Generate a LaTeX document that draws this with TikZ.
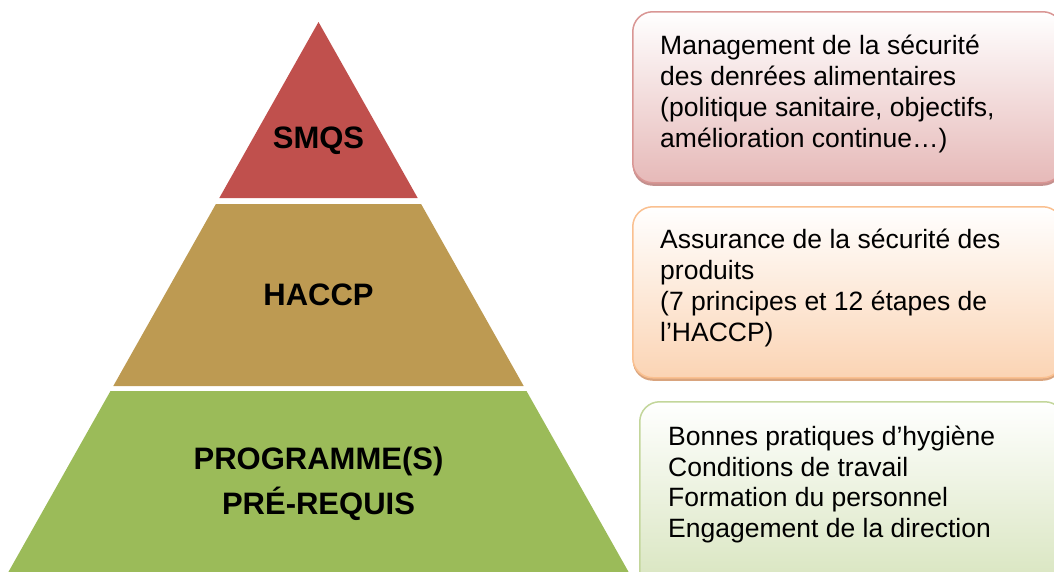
\documentclass[tikz,border=0pt]{standalone}
\usepackage{fontspec}
\setmainfont{Liberation Sans}
\usetikzlibrary{shadows}
\definecolor{smqs}{HTML}{C0504D}
\definecolor{haccp}{HTML}{BD9A52}
\definecolor{prp}{HTML}{9BBB59}
\definecolor{bAline}{HTML}{D99694}
\definecolor{bAbot}{HTML}{E6B9B8}
\definecolor{bAsh}{HTML}{C4908E}
\definecolor{bBline}{HTML}{FAC090}
\definecolor{bBbot}{HTML}{FBD4B4}
\definecolor{bBsh}{HTML}{D9A47E}
\definecolor{bCline}{HTML}{C3D69B}
\definecolor{bCbot}{HTML}{D7E4BD}
\definecolor{bCsh}{HTML}{AFC08A}
\tikzset{
  lvltext/.style={font=\fontsize{31}{45}\selectfont\bfseries, align=center, inner sep=0pt, anchor=base},
  infobox/.style={rounded corners=20pt, line width=1.5pt, inner sep=0pt, anchor=north west},
  infotext/.style={font=\fontsize{26.5}{31}\selectfont, align=left, inner sep=0pt, anchor=base west},
}
\begin{document}
\begin{tikzpicture}[x=1pt,y=-1pt]
\useasboundingbox (0,0) rectangle (1054,571);
% pyramid
\fill[smqs] (318.5,22) -- (417.7,198) -- (219.3,198) -- cycle;
\fill[haccp] (215.9,204) -- (421.1,204) -- (523.7,386) -- (113.3,386) -- cycle;
\fill[prp] (110.5,391) -- (526.5,391) -- (630.3,575) -- (6.7,575) -- cycle;
\node[lvltext] (tsmqs) at (318.5,148) {SMQS};
\node[lvltext] (thaccp) at (318.5,305) {HACCP};
\node[lvltext] (tprp) at (318.5,514) {PROGRAMME(S)\\PRÉ-REQUIS};
% boxes
\node[infobox, draw=bAline, top color=white, bottom color=bAbot,
  drop shadow={shadow xshift=0pt, shadow yshift=-3pt, fill=bAsh, opacity=1},
  minimum width=430pt, minimum height=171pt] (boxA) at (632,11) {};
\node[infobox, draw=bBline, top color=white, bottom color=bBbot,
  drop shadow={shadow xshift=0pt, shadow yshift=-3pt, fill=bBsh, opacity=1},
  minimum width=430pt, minimum height=171pt] (boxB) at (632,206) {};
\node[infobox, draw=bCline, top color=white, bottom color=bCbot,
  drop shadow={shadow xshift=0pt, shadow yshift=-3pt, fill=bCsh, opacity=1},
  minimum width=425pt, minimum height=190pt] (boxC) at (639,401) {};
\node[infotext] (txtA) at (660,147) {Management de la sécurité\\des denrées alimentaires\\(politique sanitaire, objectifs,\\amélioration continue…)};
\node[infotext] (txtB) at (660,341) {Assurance de la sécurité des\\produits\\(7 principes et 12 étapes de\\l’HACCP)};
\node[infotext, font=\fontsize{26.5}{30.5}\selectfont] (txtC) at (668,537) {Bonnes pratiques d’hygiène\\Conditions de travail\\Formation du personnel\\Engagement de la direction};
\end{tikzpicture}
\end{document}
